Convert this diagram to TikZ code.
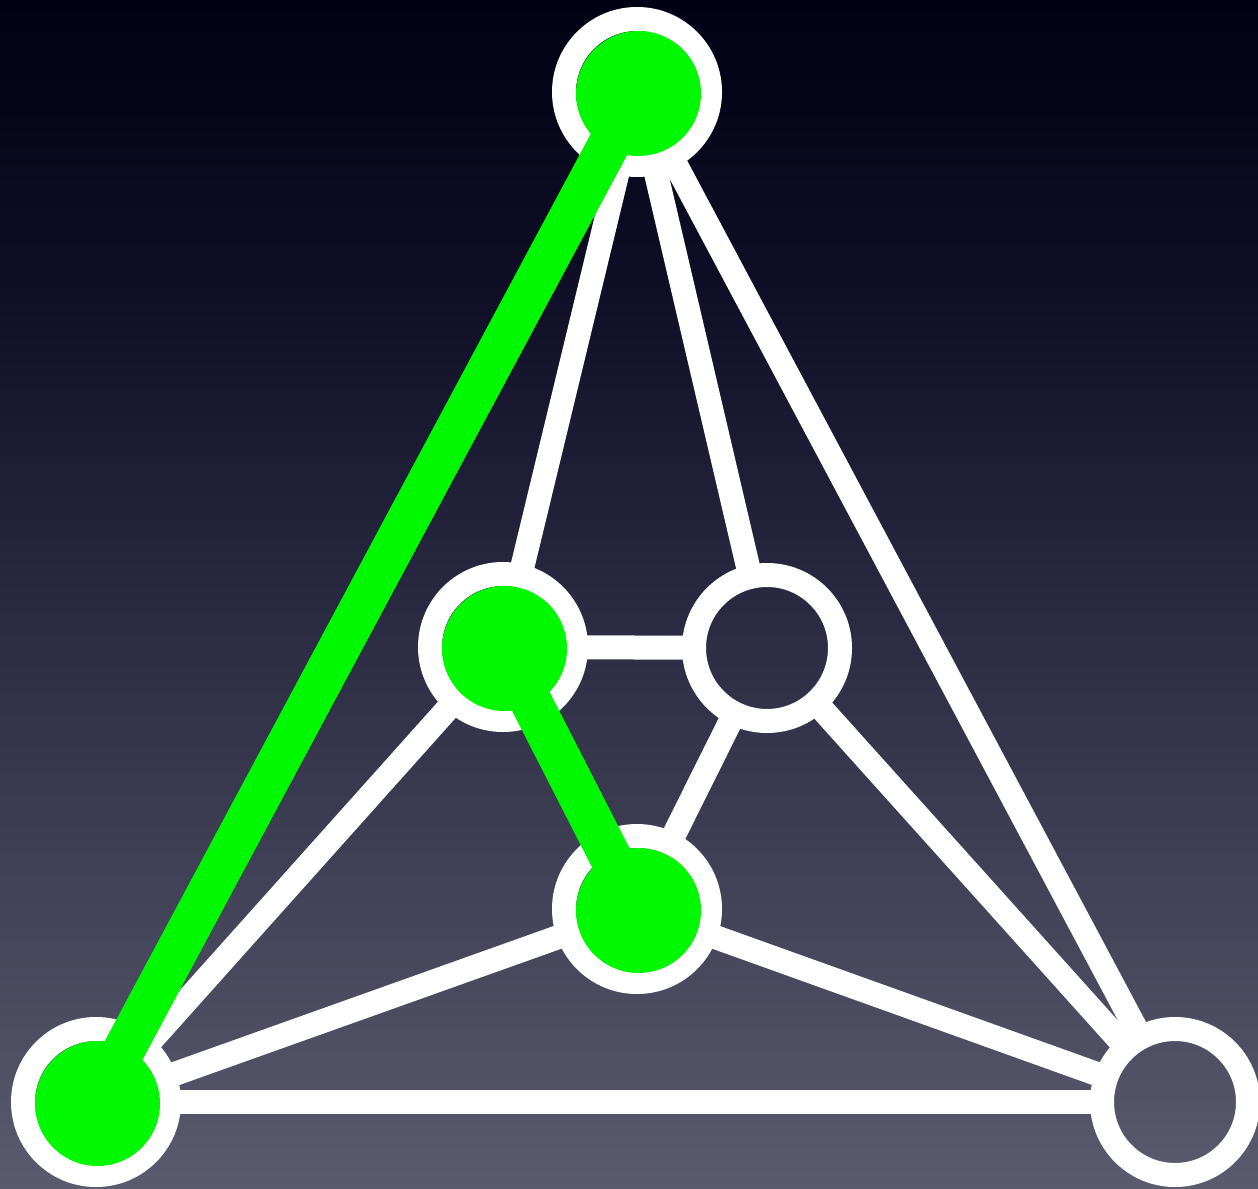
\documentclass[tikz,border=0pt]{standalone}
\usepackage{xcolor}
\usepackage{tikz}
\usetikzlibrary{positioning}
\definecolor{bgtop}{RGB}{1,1,20}
\definecolor{bgupper}{RGB}{15,15,39}
\definecolor{bgmid}{RGB}{40,40,64}
\definecolor{bglower}{RGB}{66,66,88}
\definecolor{bgbot}{RGB}{90,91,110}
\definecolor{hlgreen}{RGB}{0,248,0}
\pgfdeclareverticalshading{bgshade}{100bp}{color(0bp)=(bgbot); color(25bp)=(bgbot);
    color(37.5bp)=(bglower); color(50bp)=(bgmid); color(62.5bp)=(bgupper);
    color(75bp)=(bgtop); color(100bp)=(bgtop)}

\begin{document}
\begin{tikzpicture}[x=0.1mm, y=-0.1mm,
    vertex/.style={circle, draw=white, line width=2.4mm, minimum size=14.6mm, inner sep=0pt, outer sep=0pt},
    edge/.style={white, line width=2.4mm},
    hledge/.style={hlgreen, line width=4.2mm}]
    \useasboundingbox (0, 0) rectangle (1258, 1189);
    \shade[shading=bgshade] (0, 0) rectangle (1258, 1189);

    \node[vertex] (top) at (637, 92) {};
    \node[vertex] (midl) at (503, 647) {};
    \node[vertex] (midr) at (767, 648) {};
    \node[vertex] (midb) at (637, 909) {};
    \node[vertex] (botl) at (96, 1102) {};
    \node[vertex] (botr) at (1175, 1102) {};

    \draw[edge] (top) -- (midl);
    \draw[edge] (top) -- (midr);
    \draw[edge] (top) -- (botr);
    \draw[edge] (midl) -- (midr);
    \draw[edge] (midl) -- (botl);
    \draw[edge] (midr) -- (midb);
    \draw[edge] (midr) -- (botr);
    \draw[edge] (midb) -- (botl);
    \draw[edge] (midb) -- (botr);
    \draw[edge] (botl) -- (botr);

    % path in green
    \draw[hledge] (top.center) -- (botl.center);
    \draw[hledge] (midl.center) -- (midb.center);
    \foreach \v in {top, midl, midb, botl}
        \fill[hlgreen] ([shift={(1.5, 1.5)}]\v.center) circle (6.25mm);
\end{tikzpicture}
\end{document}
